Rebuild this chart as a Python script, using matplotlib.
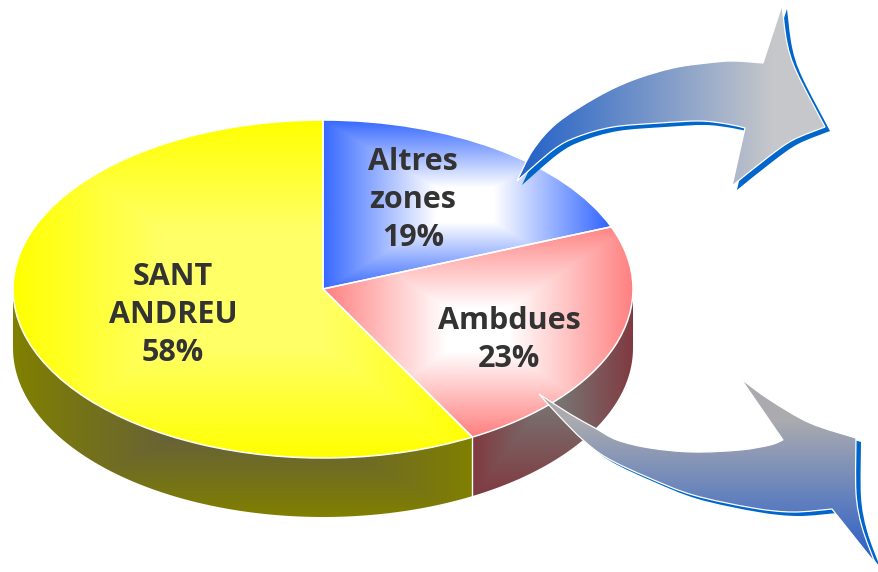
import numpy as np
import matplotlib
matplotlib.use('Agg')
import matplotlib.pyplot as plt
from matplotlib.patches import Wedge, PathPatch, Polygon
from matplotlib.path import Path
from matplotlib.transforms import Affine2D

# Dados
noms = ['Altres\nzones', 'Ambdues', 'SANT\nANDREU']
valors = [19, 23, 58]
pos_text = [(413, 200), (509, 340), (173, 315)]

# Geometria del pastis
cx, cy, rx, ry, alt = 323, 289, 310, 169, 59

# Contorn de les fletxes (cada tram es una corba)
fletxa_dalt = [
    [(517, 181), (533, 150), (557, 123), (597, 97), (633, 80), (673, 68), (707, 63), (733, 61), (763, 63)],
    [(763, 63), (782, 5)],
    [(782, 5), (787, 43), (797, 73), (825, 127)],
    [(825, 127), (793, 140), (767, 158), (732, 186)],
    [(732, 186), (745, 128)],
    [(745, 128), (727, 124), (700, 121), (660, 123), (613, 127), (577, 137), (553, 150), (517, 181)],
]
fletxa_baix = [
    [(539, 394), (570, 414), (595, 428), (617, 440), (650, 448), (693, 452), (740, 450), (770, 445), (783, 440)],
    [(783, 440), (741, 379)],
    [(741, 379), (770, 400), (810, 423), (856, 438)],
    [(856, 438), (856, 493), (862, 527), (875, 563)],
    [(875, 563), (832, 509)],
    [(832, 509), (793, 512), (753, 508), (693, 495), (647, 477), (607, 458), (583, 440), (560, 417), (539, 394)],
]


def hex2rgb(c):
    return np.array(matplotlib.colors.to_rgb(c))


def gradient(xx, yy, c_centre, c_vora, x0, y0, ax_x, ax_y, plat=0.0):
    # degradat rectangular, com els de PowerPoint
    d = np.maximum(np.abs(xx - x0) / ax_x, np.abs(yy - y0) / ax_y)
    d = np.clip((d - plat) / (1 - plat), 0, 1)
    return hex2rgb(c_centre) * (1 - d[..., None]) + hex2rgb(c_vora) * d[..., None]


def lineal(t, c0, c1):
    t = np.clip(t, 0, 1)[..., None]
    return hex2rgb(c0) * (1 - t) + hex2rgb(c1) * t


def corba(trams, dx=0, dy=0):
    # Catmull-Rom a Bezier per tram, amb cantonades vives entre trams
    verts, codes = [], []
    for tram in trams:
        p = np.array(tram, float) + (dx, dy)
        if not verts:
            verts.append(p[0])
            codes.append(Path.MOVETO)
        for i in range(len(p) - 1):
            a = p[max(i - 1, 0)]
            b = p[i]
            c = p[i + 1]
            d = p[min(i + 2, len(p) - 1)]
            verts += [b + (c - a) / 6, c - (d - b) / 6, c]
            codes += [Path.CURVE4] * 3
    verts.append(verts[0])
    codes.append(Path.CLOSEPOLY)
    return Path(verts, codes)


def pinta(ax, rgb, patch, z):
    ax.add_patch(patch)
    im = ax.imshow(rgb, extent=(0, 879, 572, 0), aspect='auto', zorder=z, interpolation='bilinear')
    im.set_clip_path(patch)


fig = plt.figure(figsize=(8.79, 5.72), dpi=100)
ax = fig.add_axes([0, 0, 1, 1])
xx, yy = np.meshgrid(np.arange(879) + 0.5, np.arange(572) + 0.5)

# Angles de cada sector (comença a dalt i va en sentit horari)
acum = np.cumsum(valors)
angles = 90 - 3.6 * np.concatenate([[0], acum])
t_unit = Affine2D().scale(rx, -ry).translate(cx, cy) + ax.transData

# Laterals
def lateral(a1, a2):
    t = np.radians(np.linspace(a1, a2, 80))
    x = cx + rx * np.cos(t)
    y = cy - ry * np.sin(t)
    return Polygon(np.r_[np.c_[x, y], np.c_[x, y + alt][::-1]], closed=True, transform=ax.transData,
                   facecolor='none', edgecolor='none')


pinta(ax, gradient(xx, yy, '#5C5451', '#808000', 243, 403, 230, 114), lateral(180, angles[2] + 360), 1)
pinta(ax, gradient(xx, yy, '#787A78', '#803A40', 553, 392, 80, 103), lateral(angles[2] + 360, 360), 1)

# Cares de dalt
colors = [
    gradient(xx, yy, '#FFFFFF', '#3366FF', 465, 205, 144, 86, 0.2),
    gradient(xx, yy, '#FFFFFF', '#FF8080', 478, 330, 155, 106, 0.2),
    gradient(xx, yy, '#FFFF66', '#FFFF00', 243, 289, 230, 169, 0.35),
]
for i in range(3):
    w = Wedge((0, 0), 1, angles[i + 1], angles[i], transform=t_unit, facecolor='none', edgecolor='none')
    pinta(ax, colors[i], w, 2)
    ax.add_patch(Wedge((0, 0), 1, angles[i + 1], angles[i], transform=t_unit, facecolor='none',
                       edgecolor='white', linewidth=1.1, zorder=3))

# Separacio lateral
x_sep = cx + rx * np.cos(np.radians(angles[2]))
y_sep = cy - ry * np.sin(np.radians(angles[2]))
ax.plot([x_sep, x_sep], [y_sep, y_sep + alt], color='white', linewidth=1, zorder=3)

# Fletxes
ax.add_patch(PathPatch(corba(fletxa_dalt, 5, 4), facecolor='#0066CC', edgecolor='none', zorder=4))
p = PathPatch(corba(fletxa_dalt), facecolor='none', edgecolor='none', zorder=5)
pinta(ax, lineal((xx - 517) / 255, '#2060C8', '#C6C7CA'), p, 5)
ax.add_patch(PathPatch(corba(fletxa_dalt), facecolor='none', edgecolor='white', linewidth=0.9, zorder=6))

ax.add_patch(PathPatch(corba(fletxa_baix, 5, 4), facecolor='#0066CC', edgecolor='none', zorder=4))
p = PathPatch(corba(fletxa_baix), facecolor='none', edgecolor='none', zorder=5)
pinta(ax, lineal((yy - 420) / 135, '#ABABAF', '#2F62C8'), p, 5)
ax.add_patch(PathPatch(corba(fletxa_baix), facecolor='none', edgecolor='white', linewidth=0.9, zorder=6))

# Etiquetes
for nom, valor, (x, y) in zip(noms, valors, pos_text):
    ax.text(x, y, f'{nom}\n{valor}%', ha='center', va='center', ma='center', family='Open Sans',
            fontweight='bold', fontsize=22, color='#333333', linespacing=1.33, zorder=7)

ax.set_xlim(0, 879)
ax.set_ylim(572, 0)
ax.axis('off')
fig.savefig('out.png', dpi=100)
